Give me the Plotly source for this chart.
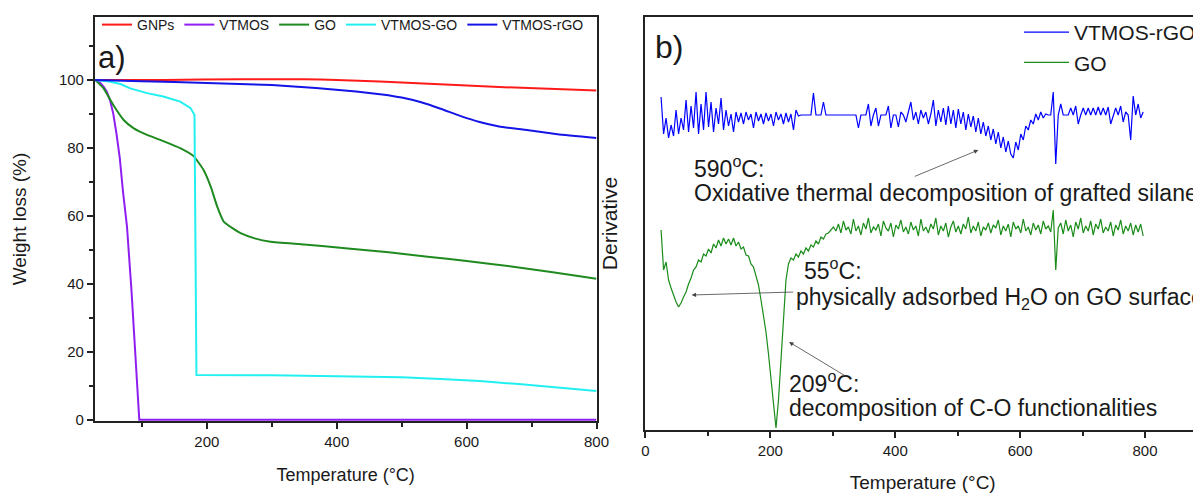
import plotly.graph_objects as go

FONT = "Liberation Sans, Arial, sans-serif"
INK = "#1a1a1a"

# ---- a) TGA: temperature (°C) vs weight (%) ----
gnps_t = [28, 134, 250, 350, 400, 466, 550, 650, 800]
gnps_w = [100.0, 100.0, 100.2, 100.2, 100.0, 99.5, 98.8, 97.9, 96.9]

vtmos_t = [28, 35, 41, 46, 51, 56, 61, 66, 71, 77, 84, 90, 96, 800]
vtmos_w = [100, 99.3, 98, 96.5, 94, 90, 84, 77, 67, 57, 38, 17, 0, 0]

go_t = [28, 41, 56, 72, 87, 108, 134, 159, 180, 195, 206, 216, 226, 240, 252,
        275, 298, 350, 413, 480, 540, 600, 669, 730, 800]
go_w = [100, 97.5, 92.6, 88.2, 85.8, 83.8, 81.9, 79.9, 77.5, 73.5, 68.6, 62.7, 58.3,
        56.3, 54.9, 53.3, 52.4, 51.6, 50.5, 49.3, 48.0, 46.7, 45.1, 43.5, 41.5]

vgo_t = [28, 50, 67, 82, 108, 133, 159, 175, 181, 182.5, 184, 300, 400, 500,
         560, 620, 680, 740, 800]
vgo_w = [100, 99.5, 98.8, 97.5, 96.1, 95.1, 93.6, 91.7, 89.7, 50, 13.2, 13.1, 12.9,
         12.5, 12.0, 11.4, 10.5, 9.5, 8.5]

rgo_t = [28, 100, 200, 300, 368, 430, 470, 500, 530, 560, 590, 620, 650, 690, 740, 800]
rgo_w = [100, 99.6, 99.1, 98.5, 97.6, 96.6, 95.7, 94.8, 93.4, 91.5, 89.4, 87.6,
         86.3, 85.3, 84.0, 82.9]

# ---- b) derivative curves (arbitrary units), sampled every 4 °C ----
dtg_temp = list(range(25, 801, 4))

dtg_rgo = [
    333, 296, 312, 292, 305, 294, 320, 296, 312, 300,
    330, 298, 324, 302, 338, 296, 326, 300, 338, 303,
    328, 298, 322, 306, 332, 300, 320, 304, 316, 298,
    318, 308, 317, 306, 318, 310, 316, 302, 318, 309,
    316, 306, 317, 309, 316, 304, 318, 310, 316, 306,
    317, 308, 316, 300, 320, 314, 315, 315, 315, 315,
    315, 337, 315, 315, 315, 328, 315, 315, 315, 315,
    315, 315, 315, 315, 315, 315, 315, 315, 315, 302,
    315, 315, 315, 326, 304, 315, 322, 304, 315, 315,
    315, 324, 302, 315, 315, 303, 318, 315, 308, 318,
    328, 310, 318, 306, 320, 312, 318, 306, 316, 330,
    304, 320, 308, 322, 305, 324, 306, 320, 302, 321,
    306, 318, 300, 316, 303, 314, 298, 312, 296, 308,
    294, 304, 290, 301, 286, 298, 282, 293, 278, 289,
    276, 272, 288, 280, 296, 290, 304, 300, 310, 306,
    316, 310, 318, 312, 316, 315, 315, 338, 266, 315,
    326, 315, 315, 315, 322, 315, 324, 306, 315, 322,
    315, 322, 315, 322, 315, 323, 315, 322, 315, 323,
    306, 315, 322, 315, 324, 308, 318, 315, 290, 334,
    315, 326, 312, 318,
]

dtg_go = [
    200, 160, 168, 150, 142, 134, 128, 123, 127, 133,
    138, 146, 152, 160, 163, 170, 168, 176, 174, 181,
    177, 186, 182, 190, 184, 192, 186, 191, 185, 192,
    184, 188, 181, 183, 175, 174, 166, 163, 155, 145,
    130, 116, 98, 76, 52, 26, 2, 30, 72, 112,
    150, 166, 172, 170, 176, 173, 179, 176, 182, 179,
    185, 183, 189, 186, 193, 191, 196, 197, 200, 203,
    199, 206, 197, 209, 200, 203, 196, 211, 199, 204,
    195, 207, 201, 212, 197, 203, 200, 206, 194, 209,
    202, 199, 207, 193, 205, 201, 210, 198, 203, 196,
    208, 200, 204, 194, 211, 199, 203, 197, 206, 201,
    212, 195, 204, 199, 207, 193, 203, 209, 198, 204,
    196, 206, 201, 213, 197, 204, 199, 208, 194, 203,
    200, 207, 197, 205, 202, 210, 195, 204, 199, 206,
    193, 208, 201, 204, 197, 211, 199, 203, 195, 207,
    200, 205, 196, 209, 201, 204, 198, 220, 160, 202,
    207, 196, 210, 199, 205, 193, 208, 201, 212, 197,
    204, 199, 209, 195, 206, 201, 211, 197, 203, 199,
    208, 194, 205, 200, 210, 196, 204, 199, 207, 195,
    205, 198, 206, 194,
]

# the page body keeps its default 8px margin, so the figure is 8px smaller
OFF = 8
W, H = 1201 - OFF, 493 - OFF


def px(x):
    return (x - OFF) / W


def py(y):
    return 1 - (y - OFF) / H


fig = go.Figure()

tga = [
    ("GNPs", gnps_t, gnps_w, "#ff1a1a", "spline"),
    ("VTMOS", vtmos_t, vtmos_w, "#8f1ff0", "linear"),
    ("GO", go_t, go_w, "#1f8a1f", "spline"),
    ("VTMOS-GO", vgo_t, vgo_w, "#22f0f0", "linear"),
    ("VTMOS-rGO", rgo_t, rgo_w, "#1414e6", "spline"),
]
for name, t, w, c, shape in tga:
    fig.add_trace(go.Scatter(
        x=t, y=w, mode="lines", name=name,
        line=dict(color=c, width=2, shape=shape, smoothing=0.4),
        xaxis="x", yaxis="y", legend="legend",
    ))

fig.add_trace(go.Scatter(
    x=dtg_temp, y=dtg_rgo, mode="lines", name="VTMOS-rGO",
    line=dict(color="#0000ff", width=1.2), xaxis="x2", yaxis="y2", legend="legend2",
))
fig.add_trace(go.Scatter(
    x=dtg_temp, y=dtg_go, mode="lines", name="GO",
    line=dict(color="#1a8c1a", width=1.2), xaxis="x2", yaxis="y2", legend="legend2",
))

axis_common = dict(
    showline=True, linecolor="#222", linewidth=2, showgrid=False, zeroline=False,
    ticks="outside", ticklen=6, tickwidth=1.5, tickcolor="#222", layer="below traces",
    tickfont=dict(family=FONT, size=15, color=INK), automargin=False,
)

fig.update_layout(
    width=W, height=H,
    margin=dict(l=0, r=0, t=0, b=0),
    paper_bgcolor="white", plot_bgcolor="white",
    font=dict(family=FONT, color=INK),
    xaxis=dict(
        axis_common, domain=[px(95), px(597)], range=[27.7, 800], anchor="y",
        tickvals=[200, 400, 600, 800], mirror=True,
        minor=dict(tickvals=[100, 300, 500, 700], ticks="outside", ticklen=4, tickcolor="#222"),
        title=dict(text="Temperature (°C)", standoff=19, font=dict(family=FONT, size=18, color=INK)),
    ),
    yaxis=dict(
        axis_common, domain=[py(421), py(17)], range=[-0.35, 118.5], anchor="x",
        tickvals=[0, 20, 40, 60, 80, 100], mirror=True,
        minor=dict(tickvals=[10, 30, 50, 70, 90, 110], ticks="outside", ticklen=4, tickcolor="#222"),
        title=dict(text="Weight loss (%)", standoff=27, font=dict(family=FONT, size=19, color=INK)),
    ),
    xaxis2=dict(
        axis_common, domain=[px(646), 1.0], range=[0, 888], anchor="y2",
        tickvals=[0, 200, 400, 600, 800], mirror=True,
        minor=dict(tickvals=[100, 300, 500, 700], ticks="outside", ticklen=4, tickcolor="#222"),
        title=dict(text="Temperature (°C)", standoff=18, font=dict(family=FONT, size=19, color=INK)),
    ),
    yaxis2=dict(
        axis_common, domain=[py(430), py(17)], range=[0, 413], anchor="x2",
        ticks="", showticklabels=False, mirror=False,
        title=dict(text="Derivative", standoff=20, font=dict(family=FONT, size=21, color=INK)),
    ),
    legend=dict(
        orientation="h", x=px(97), y=py(9), xanchor="left", yanchor="top",
        font=dict(family=FONT, size=14, color=INK), bgcolor="rgba(0,0,0,0)",
        itemwidth=30, tracegroupgap=0,
    ),
    legend2=dict(
        orientation="v", x=px(1020), y=py(12), xanchor="left", yanchor="top",
        font=dict(family=FONT, size=21, color=INK), bgcolor="rgba(0,0,0,0)",
        itemwidth=45, tracegroupgap=0,
    ),
)

# panel labels
fig.add_annotation(text="a)", xref="paper", yref="paper", x=px(96), y=py(58),
                   xanchor="left", yanchor="middle", showarrow=False,
                   font=dict(family=FONT, size=31, color=INK))
fig.add_annotation(text="b)", xref="paper", yref="paper", x=px(654), y=py(47),
                   xanchor="left", yanchor="middle", showarrow=False,
                   font=dict(family=FONT, size=32, color=INK))

# peak labels in panel b
labels_b = [
    ("590<sup>o</sup>C:", 75, 263),
    ("Oxidative thermal decomposition of grafted silane", 75, 237),
    ("55<sup>o</sup>C:", 251, 161),
    ("physically adsorbed H<sub>2</sub>O on GO surface", 238, 132),
    ("209<sup>o</sup>C:", 226, 48),
    ("decomposition of C-O functionalities", 226, 22),
]
for txt, tx, ty in labels_b:
    fig.add_annotation(text=txt, xref="x2", yref="y2", x=tx, y=ty, xanchor="left",
                       yanchor="middle", showarrow=False,
                       font=dict(family=FONT, size=23, color=INK))

# arrows: head at (x, y), tail offset in px
arrows_b = [(533, 280, -65, 27), (74, 135, 103, -3), (230, 88, 58, 35)]
for hx, hy, ax, ay in arrows_b:
    fig.add_annotation(text="", xref="x2", yref="y2", x=hx, y=hy, ax=ax, ay=ay,
                       showarrow=True, arrowhead=2, arrowsize=1.1, arrowwidth=0.8,
                       arrowcolor="#444", standoff=0)

fig.write_html("out.html")
